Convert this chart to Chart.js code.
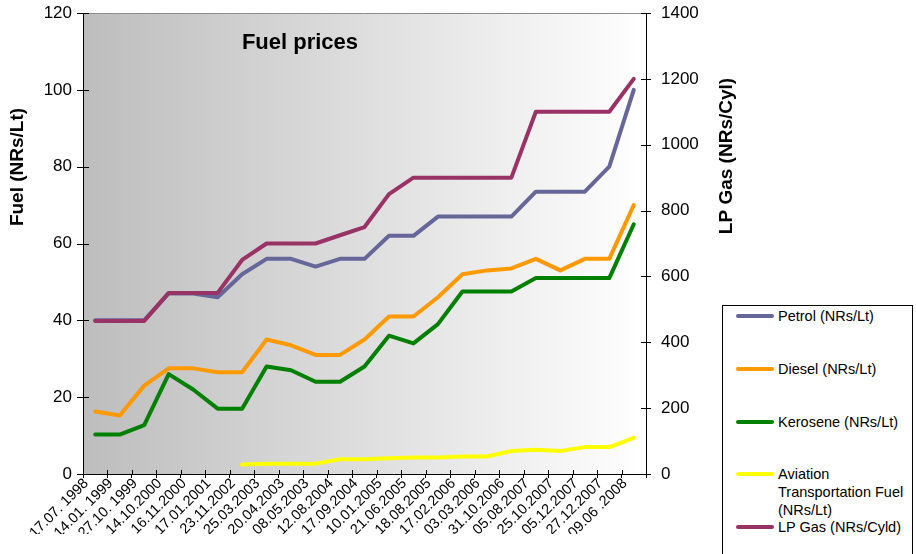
<!DOCTYPE html>
<html>
<head>
<meta charset="utf-8">
<script src="https://cdn.jsdelivr.net/npm/chart.js@4"></script>
<style>
html,body{margin:0;padding:0;background:#fff;overflow:hidden;}
#wrap{position:relative;width:916px;height:554px;overflow:hidden;}
#c{position:absolute;left:0;top:0;}
#legend{position:absolute;left:722px;top:305px;width:191px;height:270px;border:1px solid #000;box-sizing:border-box;background:#fff;font-family:"Liberation Sans",Arial,sans-serif;font-size:14.5px;color:#000;}
#legend .item{position:absolute;left:0;width:100%;}
#legend .sw{position:absolute;left:13px;top:7px;width:38px;height:4px;border-radius:2px;}
#legend .tx{position:absolute;left:55px;top:0;width:132px;line-height:18px;white-space:normal;}
</style>
</head>
<body>
<div id="wrap">
<canvas id="c" width="916" height="554"></canvas>
<div id="legend"></div>
</div>
<script>
const categories = ["17.07. 1998","14.01. 1999","27.10. 1999","14.10.2000","16.11.2000","17.01.2001","23.11.2002","25.03.2003","20.04.2003","08.05.2003","12.08.2004","17.09.2004","10.01.2005","21.06.2005","18.08.2005","17.02.2006","03.03.2006","31.10.2006","05.08.2007","25.10.2007","05.12.2007","27.12.2007","09.06 .2008"];
const petrol   = [40,40,40,47,47,46,52,56,56,54,56,56,62,62,67,67,67,67,73.5,73.5,73.5,80,100];
const diesel   = [16.25,15.25,23,27.5,27.5,26.5,26.5,35,33.5,31,31,35,41,41,46,52,53,53.5,56,53,56,56,70];
const kerosene = [10.25,10.25,12.75,26,22,17,17,28,27,24,24,28,36,34,39,47.5,47.5,47.5,51,51,51,51,65];
const aviation = [null,null,null,null,null,null,2.45,2.7,2.7,2.7,3.85,3.85,4.1,4.3,4.3,4.55,4.55,6.0,6.3,6.0,7.0,7.0,9.4];
const lpGas    = [465,465,465,550,550,550,650,700,700,700,725,750,850,900,900,900,900,900,1100,1100,1100,1100,1200];
const seriesNames = ["Petrol (NRs/Lt)","Diesel (NRs/Lt)","Kerosene (NRs/Lt)","Aviation Transportation Fuel (NRs/Lt)","LP Gas (NRs/Cyld)"];
const leftTicks = {min:0,max:120,step:20};
const rightTicks = {min:0,max:1400,step:200};
const chartTitle = "Fuel prices";
const leftAxisTitle = "Fuel (NRs/Lt)";
const rightAxisTitle = "LP Gas (NRs/Cyl)";

const FONT = '"Liberation Sans", Arial, sans-serif';

const bgPlugin = {
  id:'bg',
  beforeDraw(chart){
    const {ctx, chartArea:a} = chart;
    ctx.save();
    const g = ctx.createLinearGradient(a.left,0,a.right,0);
    g.addColorStop(0,'#bdbdbd');
    g.addColorStop(1,'#ffffff');
    ctx.fillStyle = g;
    ctx.fillRect(a.left,a.top,a.right-a.left,a.bottom-a.top);
    ctx.strokeStyle = '#8c8c8c';
    ctx.lineWidth = 1;
    ctx.beginPath();
    ctx.moveTo(a.left,a.top+0.5);
    ctx.lineTo(a.right,a.top+0.5);
    ctx.stroke();
    ctx.restore();
  },
  afterDraw(chart){
    const {ctx, chartArea:a, scales} = chart;
    ctx.save();
    ctx.strokeStyle = '#000';
    ctx.lineWidth = 1;
    ctx.beginPath();
    scales.y.ticks.forEach((t,i)=>{
      const y = Math.round(scales.y.getPixelForTick(i))+0.5;
      ctx.moveTo(a.left-6,y); ctx.lineTo(a.left+6,y);
    });
    scales.y1.ticks.forEach((t,i)=>{
      const y = Math.round(scales.y1.getPixelForTick(i))+0.5;
      ctx.moveTo(a.right-5,y); ctx.lineTo(a.right+5,y);
    });
    const n = scales.x.ticks.length;
    for(let i=0;i<=n;i++){
      const x = Math.round(scales.x.getPixelForValue(i-0.5))+0.5;
      ctx.moveTo(x,a.bottom); ctx.lineTo(x,a.bottom-4);
    }
    ctx.stroke();
    ctx.fillStyle = '#000';
    ctx.textAlign = 'center';
    ctx.textBaseline = 'middle';
    ctx.font = 'bold 22px ' + FONT;
    ctx.fillText(chartTitle, 300, 43);
    ctx.font = 'bold 19px ' + FONT;
    ctx.save();
    ctx.translate(18,167);
    ctx.rotate(-Math.PI/2);
    ctx.fillText(leftAxisTitle,0,0);
    ctx.restore();
    ctx.save();
    ctx.translate(727,156);
    ctx.rotate(-Math.PI/2);
    ctx.fillText(rightAxisTitle,0,0);
    ctx.restore();
    ctx.restore();
  }
};

const colors = ['#666699','#FF9900','#008000','#FFFF00','#993366'];
const seriesData = [petrol, diesel, kerosene, aviation, lpGas];
const axes = ['y','y','y','y','y1'];

const datasets = seriesData.map((d,i)=>({
  label: seriesNames[i],
  data: d,
  yAxisID: axes[i],
  borderColor: colors[i],
  backgroundColor: colors[i],
  borderWidth: 4,
  pointRadius: 0,
  pointHoverRadius: 0,
  tension: 0,
  fill: false,
  spanGaps: false,
  borderJoinStyle: 'round',
  borderCapStyle: 'round',
  order: 5 - i
}));

const plain = v => String(v);

const chart = new Chart(document.getElementById('c'), {
  type: 'line',
  data: { labels: categories, datasets },
  options: {
    responsive: false,
    animation: false,
    devicePixelRatio: 1,
    layout: { padding: { left: 0, top: 13, right: 210, bottom: 20 } },
    plugins: { legend: { display: false }, title: { display: false }, tooltip: { enabled: false } },
    scales: {
      x: {
        type: 'category',
        offset: true,
        grid: { display: true, drawOnChartArea: false, offset: true, color: '#000', tickLength: 4, lineWidth: 1 },
        border: { display: true, color: '#000', width: 1 },
        ticks: { autoSkip: false, minRotation: 45, maxRotation: 45, color: '#000', font: { family: FONT, size: 14.5 }, padding: -3, labelOffset: -9 },
        afterFit(s){ s.height = 60; }
      },
      y: {
        position: 'left',
        min: leftTicks.min, max: leftTicks.max,
        ticks: { stepSize: leftTicks.step, color: '#000', font: { family: FONT, size: 17 }, padding: 0, callback: plain },
        grid: { drawOnChartArea: false, color: 'rgba(0,0,0,0)', tickLength: 11 },
        border: { display: true, color: '#000', width: 1 },
        afterFit(s){ s.width = 83; }
      },
      y1: {
        position: 'right',
        min: rightTicks.min, max: rightTicks.max,
        ticks: { stepSize: rightTicks.step, color: '#000', font: { family: FONT, size: 17 }, padding: 0, callback: plain },
        grid: { drawOnChartArea: false, color: 'rgba(0,0,0,0)', tickLength: 15 },
        border: { display: true, color: '#000', width: 1 },
        afterFit(s){ s.width = 60; }
      }
    }
  },
  plugins: [bgPlugin]
});

const legendEl = document.getElementById('legend');
chart.data.datasets.forEach((ds,i)=>{
  const item = document.createElement('div');
  item.className = 'item';
  item.style.top = (1 + 53*i - (i>=3?1:0)) + 'px';
  const sw = document.createElement('div');
  sw.className = 'sw';
  sw.style.background = ds.borderColor;
  const tx = document.createElement('div');
  tx.className = 'tx';
  tx.textContent = ds.label;
  item.appendChild(sw); item.appendChild(tx);
  legendEl.appendChild(item);
});
</script>
</body>
</html>
